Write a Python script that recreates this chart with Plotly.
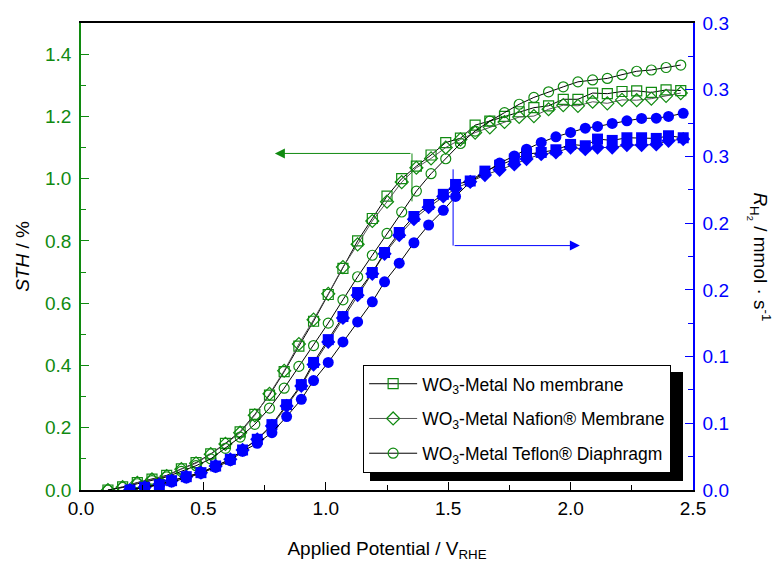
import plotly.graph_objects as go

# ---------------- data ----------------
x_green = [0.11, 0.17, 0.23, 0.29, 0.35, 0.41, 0.47, 0.53, 0.59, 0.65,
           0.71, 0.77, 0.83, 0.89, 0.95, 1.01, 1.07, 1.13, 1.19, 1.25,
           1.31, 1.37, 1.43, 1.49, 1.55, 1.61, 1.67, 1.73, 1.79, 1.85,
           1.91, 1.97, 2.03, 2.09, 2.15, 2.21, 2.27, 2.33, 2.39, 2.45]

sth_no_membrane = [0.0, 0.010, 0.024, 0.035, 0.047, 0.068, 0.088, 0.116, 0.150, 0.187,
                   0.243, 0.305, 0.380, 0.462, 0.542, 0.628, 0.712, 0.800, 0.872, 0.944,
                   1.000, 1.040, 1.076, 1.116, 1.130, 1.172, 1.185, 1.200, 1.215, 1.228,
                   1.234, 1.255, 1.255, 1.275, 1.273, 1.280, 1.282, 1.277, 1.285, 1.283]

sth_nafion = [0.0, 0.009, 0.023, 0.034, 0.045, 0.067, 0.086, 0.115, 0.148, 0.184,
              0.240, 0.309, 0.383, 0.469, 0.547, 0.630, 0.716, 0.789, 0.864, 0.926,
              0.989, 1.035, 1.065, 1.100, 1.126, 1.148, 1.165, 1.182, 1.198, 1.201,
              1.223, 1.236, 1.234, 1.247, 1.242, 1.253, 1.252, 1.257, 1.266, 1.275]

sth_teflon = [0.0, 0.008, 0.020, 0.030, 0.042, 0.060, 0.078, 0.100, 0.134, 0.170,
              0.211, 0.263, 0.327, 0.397, 0.464, 0.536, 0.611, 0.685, 0.754, 0.824,
              0.893, 0.960, 1.016, 1.064, 1.113, 1.153, 1.185, 1.212, 1.239, 1.261,
              1.279, 1.295, 1.311, 1.317, 1.322, 1.334, 1.345, 1.349, 1.357, 1.365]

x_blue = [0.20, 0.26, 0.32, 0.37, 0.43, 0.49, 0.55, 0.61, 0.66, 0.72,
          0.78, 0.84, 0.90, 0.95, 1.01, 1.07, 1.13, 1.19, 1.24, 1.30,
          1.36, 1.42, 1.48, 1.53, 1.59, 1.65, 1.71, 1.77, 1.82, 1.88,
          1.94, 2.00, 2.06, 2.11, 2.17, 2.23, 2.29, 2.35, 2.40, 2.46]

rh2_no_membrane = [0.0, 0.002, 0.004, 0.007, 0.010, 0.013, 0.018, 0.023, 0.030, 0.038,
                   0.049, 0.064, 0.079, 0.0956, 0.1127, 0.130, 0.148, 0.163, 0.178, 0.193,
                   0.205, 0.214, 0.2216, 0.229, 0.2316, 0.239, 0.2434, 0.248, 0.2517, 0.253,
                   0.255, 0.259, 0.258, 0.263, 0.262, 0.264, 0.264, 0.2635, 0.2655, 0.264]

rh2_nafion = [0.0, 0.002, 0.004, 0.007, 0.010, 0.013, 0.018, 0.023, 0.030, 0.038,
              0.048, 0.063, 0.078, 0.094, 0.111, 0.129, 0.146, 0.162, 0.177, 0.191,
              0.203, 0.212, 0.220, 0.226, 0.231, 0.236, 0.240, 0.244, 0.248, 0.2517,
              0.253, 0.2567, 0.2554, 0.2567, 0.2567, 0.2585, 0.2585, 0.259, 0.2617, 0.263]

rh2_teflon = [0.0, 0.002, 0.004, 0.006, 0.009, 0.0125, 0.017, 0.022, 0.029, 0.035,
              0.043, 0.055, 0.068, 0.082, 0.0956, 0.111, 0.126, 0.141, 0.156, 0.170,
              0.1853, 0.1986, 0.2096, 0.220, 0.2309, 0.238, 0.245, 0.2504, 0.2554, 0.2605,
              0.2647, 0.268, 0.2712, 0.2725, 0.2747, 0.2767, 0.2785, 0.2787, 0.280, 0.2823]

legend_names = ["WO<sub>3</sub>-Metal No membrane",
                "WO<sub>3</sub>-Metal Nafion® Membrane",
                "WO<sub>3</sub>-Metal Teflon® Diaphragm"]

right_tickvals = [0.0, 0.05, 0.10, 0.15, 0.20, 0.25, 0.30, 0.35]
right_ticktext = ["0.0", "0.1", "0.1", "0.2", "0.2", "0.3", "0.3", "0.3"]

# ---------------- style ----------------
GREEN = "#108a10"
BLUE = "#0000ff"
FONT = "Liberation Sans, Arial, sans-serif"
FS = 19

fig = go.Figure()

green_series = [(sth_no_membrane, "square-open", "black"),
                (sth_nafion, "diamond-open", "#555555"),
                (sth_teflon, "circle-open", "black")]
for i, (vals, sym, lc) in enumerate(green_series):
    fig.add_trace(go.Scatter(
        x=x_green, y=vals, mode="lines+markers", name=legend_names[i],
        legendgroup=f"g{i}",
        line=dict(color=lc, width=1),
        marker=dict(symbol=sym, size=10, color=GREEN, line=dict(color=GREEN, width=1.2)),
        yaxis="y"))

blue_series = [(rh2_nafion, "diamond", "#333333"),
               (rh2_no_membrane, "square", "black"),
               (rh2_teflon, "circle", "black")]
for vals, sym, lc in blue_series:
    fig.add_trace(go.Scatter(
        x=x_blue, y=vals, mode="lines+markers", showlegend=False,
        line=dict(color=lc, width=1),
        marker=dict(symbol=sym, size=11, color=BLUE, line=dict(width=0)),
        yaxis="y2"))

fig.update_layout(
    width=773, height=571,
    margin=dict(l=81, r=80, t=23, b=81),
    paper_bgcolor="white", plot_bgcolor="white",
    font=dict(family=FONT, size=FS, color="black"),
    xaxis=dict(
        range=[0, 2.5], tick0=0, dtick=0.5, tickformat=".1f",
        showgrid=False, zeroline=False,
        showline=True, linecolor="black", linewidth=1.5, mirror=True,
        ticks="inside", ticklen=8, tickwidth=1, tickcolor="black",
        minor=dict(ticks="inside", ticklen=5, dtick=0.25, tickcolor="black"),
        tickfont=dict(size=FS, color="black"),
        title=dict(text="Applied Potential / V<sub>RHE</sub>",
                   font=dict(size=FS, color="black"), standoff=24),
    ),
    yaxis=dict(
        range=[0, 1.5], tick0=0, dtick=0.2, tickformat=".1f",
        showgrid=False, zeroline=False,
        showline=True, linecolor=GREEN, linewidth=1.5,
        ticks="inside", ticklen=8, tickwidth=1, tickcolor=GREEN,
        minor=dict(ticks="inside", ticklen=5, dtick=0.1, tickcolor=GREEN),
        tickfont=dict(size=FS, color=GREEN),
        ticklabelstandoff=4,
        title=dict(text="<i>STH</i> / %", font=dict(size=FS, color="black"),
                   standoff=10),
    ),
    yaxis2=dict(
        overlaying="y", side="right", range=[0, 0.35],
        tickmode="array", tickvals=right_tickvals, ticktext=right_ticktext,
        showgrid=False, zeroline=False,
        showline=True, linecolor=BLUE, linewidth=1.5,
        ticks="inside", ticklen=8, tickwidth=1, tickcolor=BLUE,
        minor=dict(ticks="inside", ticklen=5,
                   tickvals=[0.025, 0.075, 0.125, 0.175, 0.225, 0.275, 0.325],
                   tickcolor=BLUE),
        tickfont=dict(size=FS, color=BLUE),
        ticklabelstandoff=4,
    ),
    legend=dict(
        x=0.461, y=0.268, xanchor="left", yanchor="top",
        bgcolor="white", bordercolor="black", borderwidth=1,
        font=dict(size=17.5, color="black"),
        tracegroupgap=9, traceorder="grouped", itemwidth=48,
    ),
    showlegend=True,
)

# legend drop shadow (offset ~7 px right and down from the legend box)
fig.add_shape(type="rect", xref="paper", yref="paper",
              x0=(370 - 81) / 612, x1=(683 - 81) / 612,
              y0=(490 - 481) / 467, y1=(490 - 372) / 467,
              fillcolor="black", line=dict(width=0), layer="above")

# right axis title (reads top-to-bottom)
fig.add_annotation(text="<i>R</i><sub>H<sub>2</sub></sub> / mmol · s<sup>-1</sup>",
                   xref="paper", yref="paper", x=1.135, y=0.5,
                   textangle=90, showarrow=False,
                   font=dict(size=FS, color="black"))

# green arrow pointing to the left axis
fig.add_shape(type="line", xref="x", yref="y", x0=1.352, x1=1.352, y0=0.927, y1=1.081,
              line=dict(color=GREEN, width=1))
fig.add_annotation(xref="x", yref="y", axref="x", ayref="y",
                   x=0.792, y=1.081, ax=1.352, ay=1.081, text="",
                   showarrow=True, arrowhead=2, arrowsize=2, arrowwidth=1,
                   arrowcolor=GREEN)
# blue arrow pointing to the right axis
fig.add_shape(type="line", xref="x", yref="y", x0=1.52, x1=1.52, y0=0.785, y1=1.03,
              line=dict(color=BLUE, width=1))
fig.add_annotation(xref="x", yref="y", axref="x", ayref="y",
                   x=2.038, y=0.785, ax=1.52, ay=0.785, text="",
                   showarrow=True, arrowhead=2, arrowsize=2, arrowwidth=1,
                   arrowcolor=BLUE)

fig.write_html("out.html")
